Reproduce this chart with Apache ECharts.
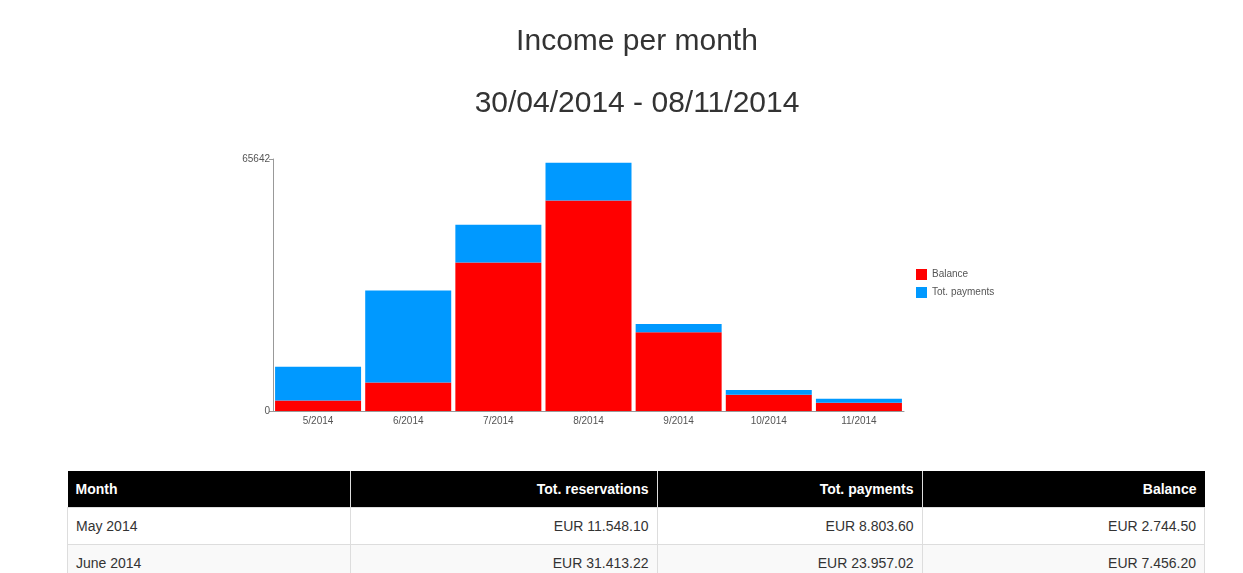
<!DOCTYPE html>
<html>
<head>
<meta charset="utf-8">
<script src="https://cdn.jsdelivr.net/npm/echarts@6/dist/echarts.min.js"></script>
<style>
    html, body { margin: 0; padding: 0; background: #fff; overflow: hidden; }
    body { width: 1243px; height: 573px; position: relative; font-family: "Liberation Sans", Arial, sans-serif; }
    #main { position: absolute; left: 0; top: 0; width: 1243px; height: 460px; }
    #tbl { position: absolute; left: 67px; top: 471px; width: 1138px; border-collapse: collapse; font-size: 14px; color: #333; }
    #tbl th { background: #000; color: #fff; font-weight: bold; height: 36px; padding: 0 8px; text-align: right; border-left: 1px solid #ddd; }
    #tbl th:first-child { text-align: left; border-left: none; }
    #tbl td { height: 36px; padding: 0 8px; text-align: right; border: 1px solid #ddd; }
    #tbl td:first-child { text-align: left; }
    #tbl tr:nth-child(even) td { background: #f9f9f9; }
</style>
</head>
<body>
<div id="main"></div>
<table id="tbl">
    <thead><tr><th style="width:266px">Month</th><th style="width:290px">Tot. reservations</th><th style="width:248px">Tot. payments</th><th>Balance</th></tr></thead>
    <tbody id="rows"></tbody>
</table>
<script>
// 数据
var categories = ['5/2014', '6/2014', '7/2014', '8/2014', '9/2014', '10/2014', '11/2014'];
var monthNames = ['May 2014', 'June 2014', 'July 2014', 'August 2014', 'September 2014', 'October 2014', 'November 2014'];
var balance = [2744.50, 7456.20, 38680, 54850, 20520, 4260, 2170];
var payments = [8803.60, 23957.02, 9830, 9830, 2170, 1220, 1040];
var yMax = 65642;

function eur(v) {
    var s = v.toFixed(2).split('.');
    return 'EUR ' + s[0].replace(/\B(?=(\d{3})+(?!\d))/g, '.') + '.' + s[1];
}

// 表格
var html = '';
for (var i = 0; i < monthNames.length; i++) {
    html += '<tr><td>' + monthNames[i] + '</td><td>' + eur(balance[i] + payments[i]) +
        '</td><td>' + eur(payments[i]) + '</td><td>' + eur(balance[i]) + '</td></tr>';
}
document.getElementById('rows').innerHTML = html;

var myChart = echarts.init(document.getElementById('main'));
var option = {
    animation: false,
    textStyle: { fontFamily: '"Liberation Sans", Arial, sans-serif' },
    title: [{
        text: 'Income per month',
        left: 632, top: 22, textAlign: 'center',
        textStyle: { fontSize: 30, fontWeight: 'normal', color: '#333' }
    }, {
        text: '30/04/2014 - 08/11/2014',
        left: 632, top: 84, textAlign: 'center',
        textStyle: { fontSize: 30, fontWeight: 'normal', color: '#333' }
    }],
    legend: {
        orient: 'vertical',
        left: 911, top: 264,
        itemWidth: 11, itemHeight: 11, itemGap: 7,
        icon: 'rect',
        textStyle: { fontSize: 10, color: '#555' },
        data: ['Balance', 'Tot. payments']
    },
    grid: { left: 273, top: 159, width: 631, height: 252, containLabel: false },
    xAxis: {
        type: 'category',
        data: categories,
        axisLine: { lineStyle: { color: '#999' } },
        axisTick: { show: false },
        axisLabel: { color: '#555', fontSize: 10, margin: 5 }
    },
    yAxis: {
        type: 'value',
        min: 0, max: yMax, interval: yMax,
        splitLine: { show: false },
        axisLine: { show: true, lineStyle: { color: '#999' } },
        axisTick: { show: true, length: 4, lineStyle: { color: '#999' } },
        axisLabel: { color: '#555', fontSize: 10, margin: 3, formatter: function (v) { return String(v); } }
    },
    series: [{
        name: 'Balance',
        type: 'bar',
        stack: 'tot',
        barWidth: 86,
        itemStyle: { color: '#ff0000' },
        data: balance
    }, {
        name: 'Tot. payments',
        type: 'bar',
        stack: 'tot',
        barWidth: 86,
        itemStyle: { color: '#0099ff' },
        data: payments
    }]
};
myChart.setOption(option);
</script>
</body>
</html>
